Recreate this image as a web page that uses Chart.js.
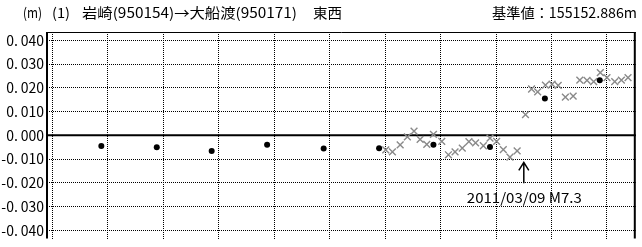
<!DOCTYPE html>
<html>
<head>
<meta charset="utf-8">
<script src="https://cdn.jsdelivr.net/npm/chart.js@4.4.0/dist/chart.umd.min.js"></script>
<style>
  html, body { margin: 0; padding: 0; background: #fff; overflow: hidden; }
  #wrap { width: 642px; height: 250px; }
</style>
</head>
<body>
<div id="wrap"><canvas id="chart" width="642" height="250"></canvas></div>
<script>
// tick values
const yTicks = [-0.04, -0.03, -0.02, -0.01, 0, 0.01, 0.02, 0.03, 0.04];
const gridX = [0, 1, 2, 3, 4, 5, 6, 7, 8, 9, 10];

// annual survey (black dots)
const surveyX = [0.88, 1.88, 2.87, 3.87, 4.89, 5.89, 6.87, 7.89, 8.88, 9.87];
const surveyY = [-0.0045, -0.0050, -0.0066, -0.0040, -0.0056, -0.0055, -0.0040, -0.0049, 0.0155, 0.0232];

// continuous obs (grey crosses)
const obsX = [6.01, 6.13, 6.27, 6.40, 6.52, 6.63, 6.75, 6.87, 7.02, 7.14,
  7.26, 7.39, 7.51, 7.63, 7.77, 7.89, 8.01, 8.13, 8.25, 8.38,
  8.53, 8.64, 8.75, 8.89, 9.01, 9.12, 9.25, 9.39, 9.51, 9.64,
  9.76, 9.88, 10.00, 10.14, 10.26, 10.38];
const obsY = [-0.0061, -0.0070, -0.0040, -0.0007, 0.0018, -0.0017, -0.0038, 0.0004, -0.0026, -0.0082,
  -0.0070, -0.0054, -0.0027, -0.0032, -0.0044, -0.0012, -0.0026, -0.0060, -0.0092, -0.0066,
  0.0087, 0.0195, 0.0183, 0.0211, 0.0215, 0.0210, 0.0161, 0.0165, 0.0232, 0.0231,
  0.0226, 0.0264, 0.0243, 0.0226, 0.0232, 0.0243];

const quakeX = 8.50;
const quakeLabel = "2011/03/09 M7.3";

const jp = '"Noto Sans CJK JP", "Noto Sans", sans-serif';

function fitText(ctx, text, x, y, w) {
  const m = ctx.measureText(text).width;
  ctx.save();
  ctx.translate(x, y);
  ctx.scale(w / m, 1);
  ctx.fillText(text, 0, 0);
  ctx.restore();
}

const extras = {
  id: "extras",
  beforeDatasetsDraw(chart) {
    const { ctx, chartArea: a, scales } = chart;
    const y0 = scales.y.getPixelForValue(0);
    ctx.save();
    ctx.strokeStyle = "#000";
    ctx.lineWidth = 2;
    ctx.beginPath();
    ctx.moveTo(a.left, y0);
    ctx.lineTo(a.right, y0);
    ctx.stroke();
    ctx.restore();
  },
  afterDraw(chart) {
    const { ctx, chartArea: a, scales } = chart;
    ctx.save();
    // frame
    ctx.strokeStyle = "#000";
    ctx.lineWidth = 1;
    ctx.beginPath();
    ctx.moveTo(a.left, a.top + 0.5);
    ctx.lineTo(a.right, a.top + 0.5);
    ctx.stroke();
    ctx.lineWidth = 2;
    ctx.beginPath();
    ctx.moveTo(a.left, a.top);
    ctx.lineTo(a.left, a.bottom);
    ctx.moveTo(a.right - 1, a.top);
    ctx.lineTo(a.right - 1, a.bottom);
    ctx.stroke();

    // title
    ctx.fillStyle = "#000";
    ctx.textBaseline = "middle";
    ctx.font = "14px " + jp;
    fitText(ctx, "(m)", 23, 13, 19);
    fitText(ctx, "(1)", 52, 13, 18);
    fitText(ctx, "岩崎(950154)→大船渡(950171)", 82, 13, 215);
    fitText(ctx, "東西", 313, 13, 29);
    fitText(ctx, "基準値：155152.886m", 492, 13, 145);

    // earthquake arrow
    const ax = scales.x.getPixelForValue(quakeX);
    const top = scales.y.getPixelForValue(-0.0114);
    const bot = scales.y.getPixelForValue(-0.0202);
    ctx.lineWidth = 1.5;
    ctx.beginPath();
    ctx.moveTo(ax, top);
    ctx.lineTo(ax, bot);
    ctx.moveTo(ax - 5, top + 8);
    ctx.lineTo(ax, top);
    ctx.lineTo(ax + 5, top + 8);
    ctx.stroke();
    ctx.font = "14px " + jp;
    const ly = scales.y.getPixelForValue(-0.0264);
    fitText(ctx, quakeLabel, ax - 57, ly, 115);
    ctx.restore();
  }
};

new Chart(document.getElementById("chart"), {
  type: "scatter",
  data: {
    datasets: [
      {
        label: "survey",
        data: surveyX.map((x, i) => ({ x: x, y: surveyY[i] })),
        pointStyle: "circle",
        pointRadius: 3,
        backgroundColor: "#000",
        borderColor: "#000",
        borderWidth: 0,
      },
      {
        label: "obs",
        data: obsX.map((x, i) => ({ x: x, y: obsY[i] })),
        pointStyle: "crossRot",
        pointRadius: 4.8,
        borderColor: "#8a8a8a",
        borderWidth: 1.4,
      },
    ],
  },
  options: {
    responsive: false,
    animation: false,
    layout: { padding: { left: 0, right: 1, top: 32, bottom: 0 } },
    plugins: {
      legend: { display: false },
      tooltip: { enabled: false },
    },
    scales: {
      x: {
        type: "linear",
        min: -0.10,
        max: 10.52,
        afterBuildTicks: (s) => { s.ticks = gridX.map((v) => ({ value: v })); },
        afterFit: (s) => { s.height = 0; },
        ticks: { display: false },
        grid: { color: "#000", lineWidth: 1, drawTicks: false },
        border: { display: false, dash: [1, 1] },
      },
      y: {
        min: -0.0435,
        max: 0.0435,
        afterBuildTicks: (s) => { s.ticks = yTicks.map((v) => ({ value: v })); },
        afterFit: (s) => { s.width = 47; },
        ticks: {
          padding: 3,
          color: "#000",
          font: { family: jp, size: 14 },
          callback: (v) => (v < -1e-9 ? "-" : "") + Math.abs(v).toFixed(3).replace(".", ".\u2009"),
        },
        grid: { color: "#000", lineWidth: 1, drawTicks: false },
        border: { display: false, dash: [1, 1] },
      },
    },
  },
  plugins: [extras],
});
</script>
</body>
</html>
